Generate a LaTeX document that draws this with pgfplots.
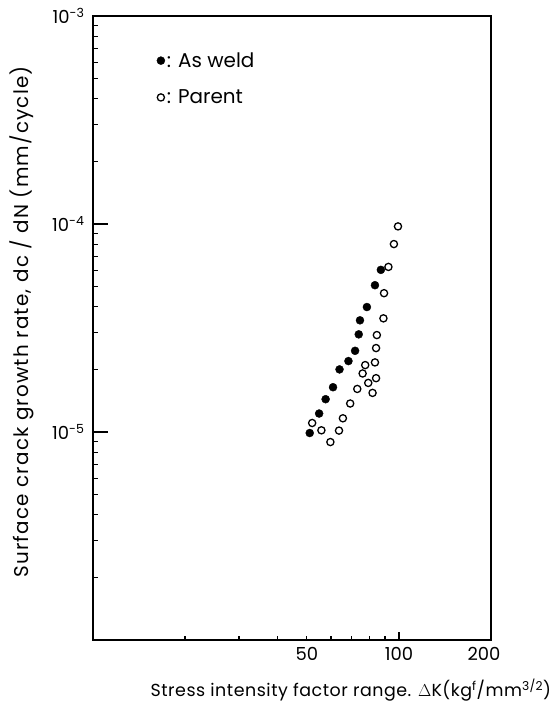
\documentclass[border=0pt]{standalone}
\usepackage{fontspec}
\setmainfont{Poppins}
\newfontfamily\ylabfont[LetterSpace=6]{Poppins}
\newfontfamily\xlabfont[LetterSpace=3]{Poppins}
\usepackage{pgfplots}
\pgfplotsset{compat=1.18}
\pgfplotstableread{
x y
51.1 9.89e-6
54.85 1.227e-5
57.6 1.438e-5
60.9 1.642e-5
63.95 2.0e-5
68.4 2.193e-5
71.9 2.457e-5
73.9 2.948e-5
74.6 3.444e-5
78.6 3.99e-5
83.5 5.08e-5
87.3 6.02e-5
}\asweld
\pgfplotstableread{
x y
52.05 1.105e-5
55.8 1.019e-5
59.7 8.95e-6
63.7 1.016e-5
65.6 1.164e-5
69.3 1.371e-5
73.1 1.611e-5
76.1 1.912e-5
77.6 2.098e-5
79.4 1.722e-5
82.0 1.542e-5
84.2 1.815e-5
83.5 2.161e-5
84.2 2.533e-5
84.7 2.925e-5
89.0 3.52e-5
89.4 4.65e-5
92.4 6.22e-5
96.3 8.01e-5
99.3 9.74e-5
}\parent
\begin{document}
\begin{tikzpicture}
\begin{axis}[
  xmode=log, ymode=log,
  scale only axis,
  width=398bp, height=624bp,
  xmin=10, xmax=200, ymin=1e-6, ymax=1e-3,
  axis line style={line width=1.4pt},
  xtick={50,100}, xticklabels={50,100},
  extra x ticks={200}, extra x tick labels={200},
  extra x tick style={xticklabel style={xshift=-7bp}},
  ytick={1e-6,1e-5,1e-4,1e-3},
  yticklabels={,10\textsuperscript{-5},10\textsuperscript{-4},10\textsuperscript{-3}},
  xtick align=inside, ytick align=inside,
  xtick pos=left, ytick pos=left,
  major tick length=0pt, minor tick length=0pt,
  tick label style={font=\fontsize{18}{20}\selectfont},
  every x tick label/.append style={yshift=-4bp},
  every y tick label/.append style={xshift=-5bp},
  xlabel={Stress intensity factor range. $\Delta$K(kg\textsuperscript{f}/mm\textsuperscript{3/2})},
  xlabel style={font=\xlabfont\fontsize{17.5}{20}\selectfont, at={(axis description cs:1.16,-0.091)}, anchor=base east},
  ylabel={Surface crack growth rate, dc / dN (mm/cycle)},
  ylabel style={font=\ylabfont\fontsize{20}{22}\selectfont, at={(axis description cs:-0.178,0.51)}, anchor=center},
  legend style={draw=none, fill=none, font=\fontsize{20}{22}\selectfont, at={(axis description cs:0.16,0.945)}, anchor=north west, row sep=17bp, inner sep=0pt},
  legend cell align=left,
  legend image code/.code={\draw[#1] plot coordinates {(0cm,0cm)};},
]
\addplot[only marks, mark=*, mark size=4bp, black] table {\asweld};
\addlegendentry{: As weld}
\addplot[only marks, mark=o, mark size=3.6bp, line width=1.3pt, black] table {\parent};
\addlegendentry{: Parent}
% axis ticks
\pgfplotsinvokeforeach{1e-5,1e-4}{\draw[line width=1.5pt] (axis cs:10,#1) -- ++(15bp,0pt);}
\pgfplotsinvokeforeach{2e-6,3e-6,4e-6,5e-6,6e-6,7e-6,8e-6,9e-6,2e-5,3e-5,4e-5,5e-5,6e-5,7e-5,8e-5,9e-5,2e-4,3e-4,4e-4,5e-4,6e-4,7e-4,8e-4,9e-4}{\draw[line width=1.2pt] (axis cs:10,#1) -- ++(5bp,0pt);}
\pgfplotsinvokeforeach{100}{\draw[line width=1.4pt] (axis cs:#1,1e-6) -- ++(0pt,8bp);}
\pgfplotsinvokeforeach{20,30,40,50,60,70,80,90}{\draw[line width=1.2pt] (axis cs:#1,1e-6) -- ++(0pt,4.5bp);}
\end{axis}
\path ([xshift=-93bp,yshift=-66bp]current axis.south west) rectangle ([xshift=64bp,yshift=16bp]current axis.north east);
\end{tikzpicture}
\end{document}
